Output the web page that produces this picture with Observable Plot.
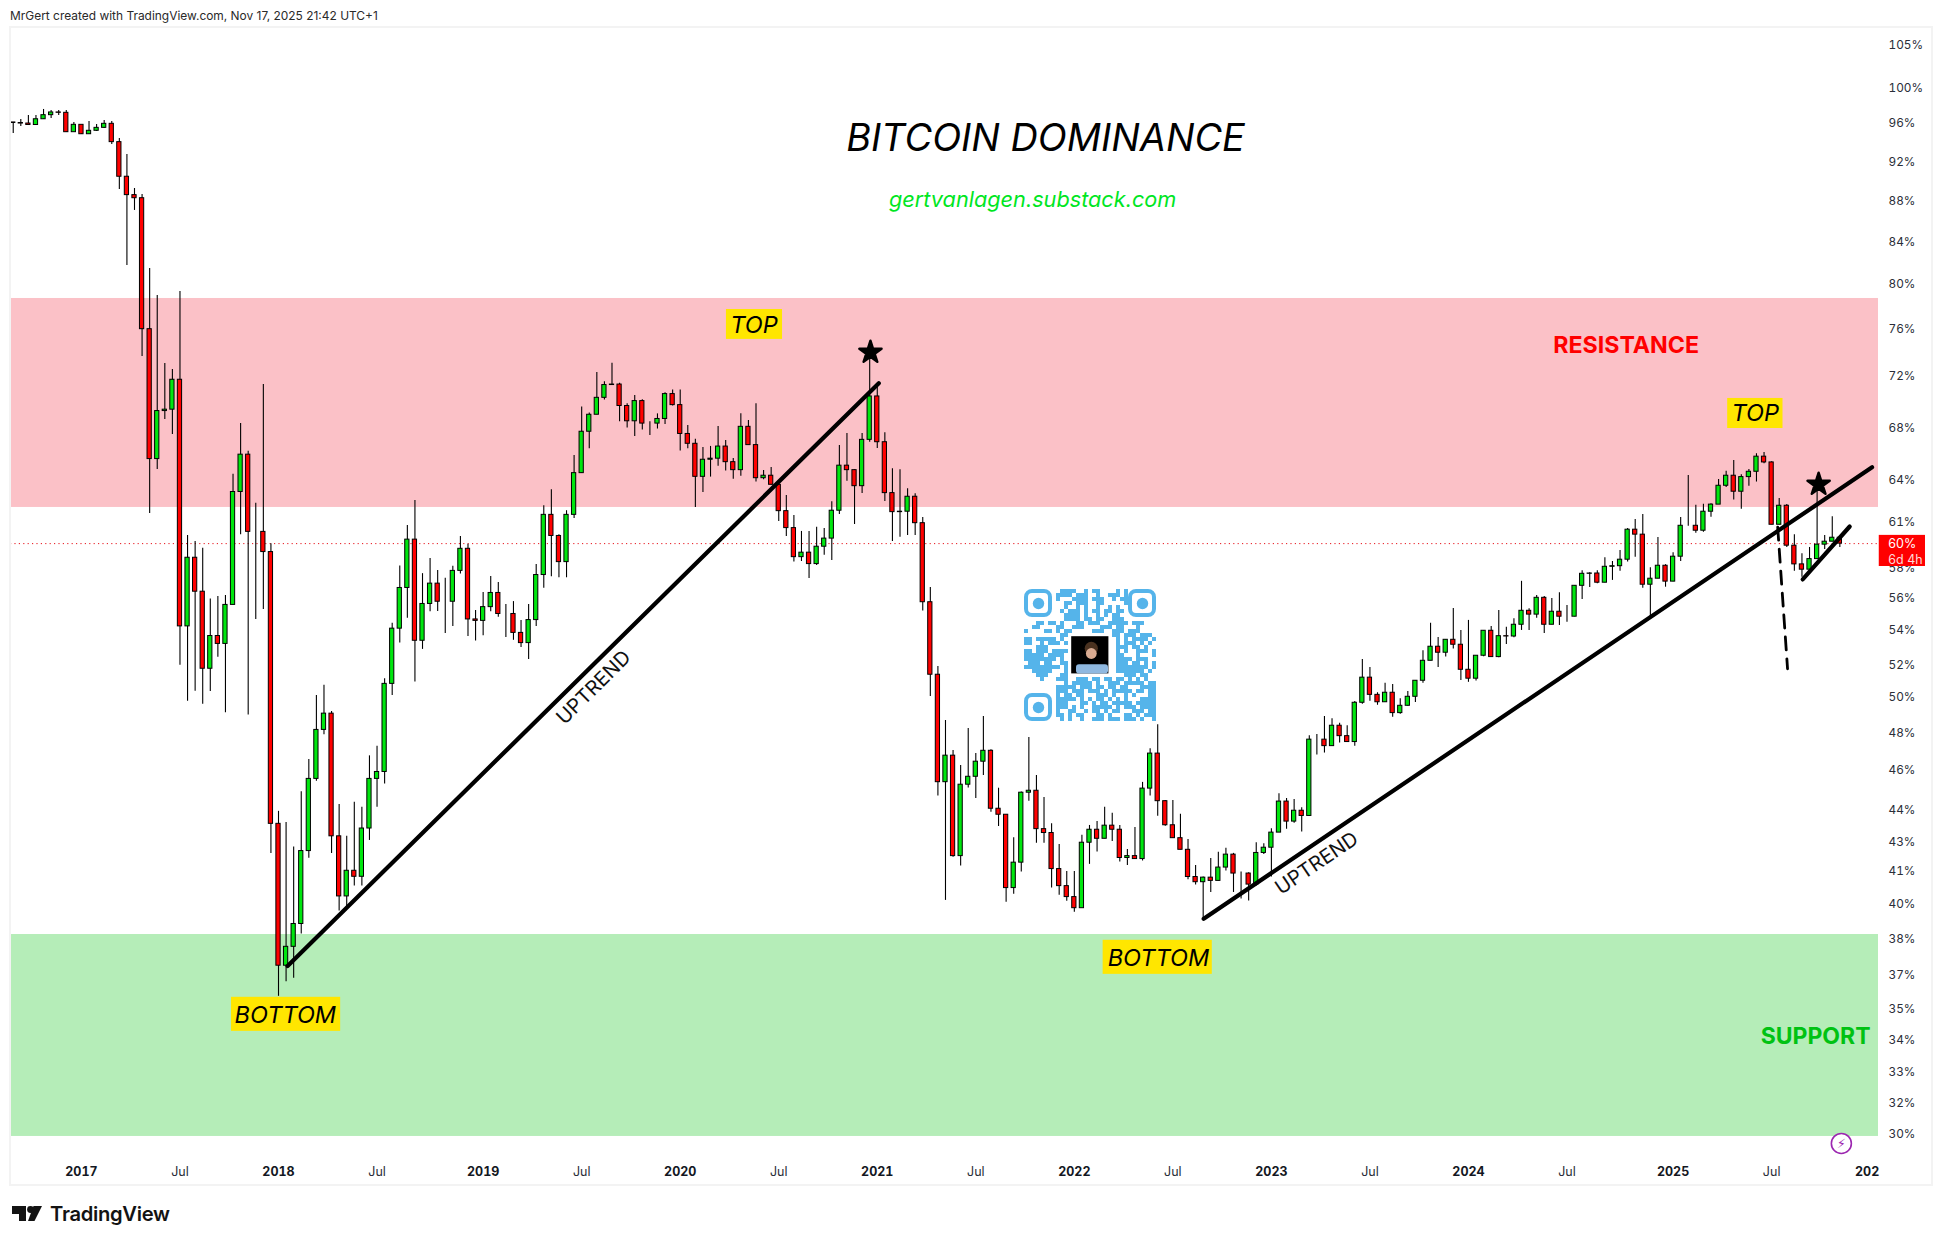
<!DOCTYPE html>
<html><head><meta charset="utf-8">
<script src="https://cdn.jsdelivr.net/npm/d3@7"></script>
<script src="https://cdn.jsdelivr.net/npm/@observablehq/plot@0.6"></script>
<style>
html,body{margin:0;padding:0;background:#fff;width:1940px;height:1244px;overflow:hidden;font-family:Inter,sans-serif}
#frame{position:absolute;left:9px;top:26px;width:1920px;height:1156px;border:2px solid #f3f3f3;box-sizing:content-box;pointer-events:none}
#head{position:absolute;left:10px;top:8px;font:11.95px Inter,sans-serif;color:#2a2a2a;white-space:nowrap}
#foot{position:absolute;left:50px;top:1201px;font:600 20.2px Inter,sans-serif;color:#131313;letter-spacing:-.3px}
#logo{position:absolute;left:0;top:0}
#chart{position:absolute;left:0;top:0}
#qr{position:absolute;left:1024px;top:589px}
</style></head><body>
<div id="head">MrGert created with TradingView.com, Nov 17, 2025 21:42 UTC+1</div>
<div id="chart"></div>
<div id="qr"></div>
<div id="frame"></div>
<svg id="logo" width="60" height="1244"><g fill="#131313"><polygon points="12,1206 26,1206 26,1221 19,1221 19,1214 12,1214"/><circle cx="30.5" cy="1209.5" r="3.4"/><polygon points="33.5,1206 42,1206 34.5,1221 28,1221"/></g></svg>
<div id="foot">TradingView</div>
<script>
const firstOpen = 96.1;
const highs = [96.09,96.42,96.86,96.86,97.53,97.42,97.42,97.42,96.09,95.66,96.2,95.87,96.31,96.2,94.36,92.66,89.14,88.53,81.39,78.92,73.04,72.54,79.28,60.06,59.65,59.18,55.87,56.03,56.09,64.38,68.22,66.09,62.29,71.31,59.49,43.87,43.32,42.13,44.86,46.53,50.06,50.64,49.15,44.21,42.64,44.32,44.07,46.73,47.24,51.01,54.35,58.01,60.74,62.49,57.5,58.5,57.71,57.2,57.98,59.99,59.46,55.14,56.28,57.32,56.93,55.52,55.7,54.52,55.52,58.11,62.12,63.27,60.11,61.77,65.77,69.51,69.04,72.29,71.53,73.05,71.42,69.77,70.43,70.09,68.36,68.97,70.65,70.87,70.87,68.07,67.01,66.38,66.46,67.99,66.91,65.56,68.98,68.45,69.77,64.67,64.89,63.72,62.85,61.44,60.33,60.33,60.61,60.54,62.41,66.53,67.45,64.72,67.45,73.54,71.39,67.5,64.8,64.72,63.33,62.97,61.3,56.6,51.74,48.65,47.02,46.22,48.21,46.85,48.87,47.06,45.04,43.7,42.57,44.84,47.72,45.7,44.57,43.26,42.25,40.97,40.97,42.69,43.17,43.37,44.07,43.77,43.17,42.01,43.07,45.34,47.11,48.41,44.42,44.42,43.72,42.49,41.25,40.71,41.58,41.87,42.06,41.82,40.94,40.91,42.33,42.28,43.01,44.76,44.52,44.47,44.05,47.81,47.88,48.87,48.74,48.49,48.36,49.71,52.15,51.68,50.21,50.75,50.69,49.87,50.28,50.9,52.67,54.34,53.47,53.33,55.27,53.9,54.52,52.37,53.88,54.15,55.14,54.09,54.63,57.0,55.25,56.09,56.03,55.9,56.26,55.46,56.71,57.69,57.56,57.69,58.55,58.3,59.04,60.54,61.16,61.51,57.89,59.92,58.09,58.89,61.3,64.3,62.15,62.22,62.27,64.01,64.6,65.41,64.36,64.74,65.91,66.01,65.31,62.64,62.2,60.1,58.82,59.24,63.36,60.06,61.35,59.85];
const closes = [96.04,95.98,95.82,96.45,96.9,97.2,97.16,95.04,95.84,94.82,95.19,95.51,95.95,93.97,90.34,88.47,88.16,75.95,65.51,69.19,69.3,71.7,54.15,58.55,56.33,51.6,53.56,53.08,55.49,63.1,65.84,60.3,60.3,58.93,43.25,36.8,37.6,38.59,41.93,45.52,48.13,49.03,42.64,39.82,41.0,40.72,43.02,45.52,45.88,50.72,54.01,56.57,59.77,53.27,55.55,56.85,55.69,55.69,57.68,59.15,54.58,54.49,55.35,56.25,54.92,54.92,53.75,53.13,54.54,57.41,61.48,60.02,58.26,61.48,64.47,67.58,68.9,70.24,71.27,71.31,69.59,68.39,69.98,68.21,68.21,68.57,70.54,69.66,67.41,66.66,64.2,65.46,65.54,66.45,65.28,64.69,67.96,66.56,64.1,64.28,63.62,61.74,60.56,58.59,58.89,58.13,59.29,59.84,61.77,65.02,64.69,63.52,66.96,70.35,66.78,63.02,61.67,61.7,62.76,60.9,55.66,51.25,45.35,46.74,41.69,45.22,45.63,46.42,47.0,44.0,43.7,40.2,41.38,44.81,44.91,42.99,42.8,41.08,40.29,39.79,39.29,42.33,42.96,42.52,43.16,42.96,41.6,41.69,41.55,45.02,46.85,44.38,43.18,42.55,41.99,40.71,40.47,40.68,40.53,41.15,41.76,40.87,40.87,40.36,41.84,42.09,42.82,44.36,43.36,43.9,43.64,47.6,47.6,47.25,48.36,47.79,47.47,49.64,51.08,50.09,49.67,50.21,49.06,49.47,49.98,50.9,52.07,52.91,52.55,53.33,53.03,51.54,51.02,52.37,53.88,52.29,53.55,53.53,54.25,55.12,54.88,55.94,54.25,55.06,54.75,54.75,56.71,57.49,57.51,56.91,57.95,57.99,58.42,60.45,60.11,56.78,57.17,58.02,56.98,58.62,60.72,60.72,60.38,61.7,62.2,63.55,64.28,63.12,64.18,64.57,65.69,65.26,60.79,62.12,59.36,58.11,57.76,58.46,59.43,59.63,59.9,59.5];
const lows = [94.89,95.66,95.76,95.76,96.42,96.53,96.86,95.0,95.11,94.79,94.79,95.11,95.44,93.72,89.04,81.66,86.94,73.63,61.58,64.74,68.53,67.37,51.8,49.73,50.3,49.56,50.28,52.28,49.08,55.49,60.11,48.95,54.58,55.2,41.81,35.54,36.13,36.28,38.15,41.59,45.4,47.86,41.81,39.16,39.26,40.29,40.29,42.44,44.07,45.26,50.06,53.13,54.66,50.83,52.75,55.06,55.08,53.72,54.15,57.47,53.53,53.25,53.58,55.06,54.72,53.47,53.3,52.86,52.14,54.15,56.55,57.29,57.23,57.23,61.22,64.47,66.29,68.9,70.06,71.23,68.36,67.86,67.22,67.72,67.29,67.79,68.14,69.59,66.11,66.29,61.99,63.07,64.18,64.98,64.62,64.03,64.25,66.56,63.82,63.99,63.6,61.02,59.99,58.26,58.3,57.19,58.04,58.71,58.37,61.51,63.87,60.81,63.0,66.78,66.31,62.43,59.65,59.94,60.06,60.06,55.1,50.0,44.64,39.64,41.64,41.22,45.05,44.52,45.7,43.83,43.12,39.56,39.92,40.94,44.38,42.31,42.31,40.2,39.87,39.6,39.11,39.39,41.3,41.88,42.52,42.39,41.41,41.25,41.55,41.46,44.64,43.62,43.13,42.55,41.99,40.58,40.34,38.84,40.0,40.53,40.99,40.0,39.7,39.61,40.29,41.77,40.71,42.82,42.99,43.28,42.85,43.61,46.77,46.88,47.25,47.42,47.47,47.25,49.56,49.73,49.5,49.67,48.83,49.0,49.45,49.66,50.76,52.07,51.68,52.29,52.77,50.92,50.81,50.88,52.31,52.29,52.25,53.05,53.46,53.9,53.9,54.66,53.72,54.25,54.21,54.4,54.75,55.83,56.6,56.85,56.91,57.06,57.65,58.26,58.59,56.56,54.63,57.17,56.62,56.98,58.3,60.68,60.21,60.28,61.32,62.2,63.43,62.52,61.88,63.52,63.82,65.17,60.79,60.79,59.24,57.66,57.27,57.76,58.46,59.11,59.63,59.24];

const yearIdx = [9,35,62,88,114,140,166,192,219,244.6];
const yearLabels = ["2017","2018","2019","2020","2021","2022","2023","2024","2025","202"];
const julIdx = [22,48,75,101,127,153,179,205,232];
const yTicks = [105.1,100,96.09,91.92,88,83.93,80,76.03,72.06,67.92,63.99,61.02,57.92,55.96,53.96,51.89,50,47.99,46.05,43.97,42.39,41.02,39.52,37.98,36.44,35.07,33.84,32.63,31.5,30.4];
const yLabels = ["105%","100%","96%","92%","88%","84%","80%","76%","72%","68%","64%","61%","58%","56%","54%","52%","50%","48%","46%","44%","43%","41%","40%","38%","37%","35%","34%","33%","32%","30%"];

const zones = [
  {x1:-0.36,x2:246.1,y1:62.0,y2:78.65,fill:"#fbc1c7"},
  {x1:-0.36,x2:246.1,y1:30.3,y2:38.13,fill:"#b5edb8"}
];
const labelBoxes = [
  {x1:94.1,x2:101.5,y1:75.07,y2:77.67},
  {x1:226.2,x2:233.5,y1:67.83,y2:70.19},
  {x1:28.8,x2:43.2,y1:34.15,y2:35.5},
  {x1:143.8,x2:158.2,y1:36.44,y2:37.88}
];
const labelTexts = [
  {x:97.74,y:76.27,t:"TOP"},{x:229.85,y:69.0,t:"TOP"},
  {x:35.9,y:34.78,t:"BOTTOM"},{x:151.1,y:37.11,t:"BOTTOM"}
];
const trend1 = [{x:36.2,y:36.79},{x:114.2,y:71.42}];
const trend2 = [{x:157.07,y:38.82},{x:245.25,y:64.9}];
const trend3 = [{x:236.1,y:57.12},{x:242.3,y:60.67}];
const dashed = [{x:232.8,y:60.62},{x:234.1,y:51.6}];
const stars = [{x:113.1,y:73.97},{x:238.2,y:63.65}];

const rows = closes.map((c,i)=>({i,h:highs[i],c,l:lows[i],o:i?closes[i-1]:firstOpen}));
const hw = 0.28;
const up = rows.filter(d=>d.c>=d.o), down = rows.filter(d=>d.c<d.o);
const body = (data,fill)=>Plot.rect(data,{x1:d=>d.i-hw,x2:d=>d.i+hw,y1:"o",y2:"c",fill,stroke:"#000",strokeWidth:1});
const fmtY = d=>yLabels[yTicks.indexOf(d)];

const plot = Plot.plot({
  width:1940,height:1244,
  marginLeft:10,marginRight:62,marginTop:26,marginBottom:89,
  style:{background:"transparent",fontFamily:"Inter, sans-serif",overflow:"visible"},
  x:{type:"linear",domain:[-0.36,246.1]},
  y:{type:"log",domain:[29.65,107.19]},
  marks:[
    Plot.rect(zones,{x1:"x1",x2:"x2",y1:"y1",y2:"y2",fill:"fill"}),
    Plot.ruleY([closes[closes.length-1]],{stroke:"#e8141c",strokeWidth:1,strokeDasharray:"1.2 3.2"}),
    Plot.ruleX(rows,{x:"i",y1:"l",y2:"h",stroke:"#000",strokeWidth:1.1}),
    body(up,"#00e60f"),
    body(down,"#ff0000"),
    Plot.line(trend1,{x:"x",y:"y",stroke:"#000",strokeWidth:4.2,strokeLinecap:"round"}),
    Plot.line(trend2,{x:"x",y:"y",stroke:"#000",strokeWidth:4.2,strokeLinecap:"round"}),
    Plot.line(trend3,{x:"x",y:"y",stroke:"#000",strokeWidth:4.2,strokeLinecap:"round"}),
    Plot.line(dashed,{x:"x",y:"y",stroke:"#000",strokeWidth:2.8,strokeDasharray:"13 9"}),
    Plot.dot(stars,{x:"x",y:"y",symbol:"star",r:7,fill:"#000",stroke:"#000",strokeWidth:2.4,strokeLinejoin:"round"}),
    Plot.rect(labelBoxes,{x1:"x1",x2:"x2",y1:"y1",y2:"y2",fill:"#ffe600"}),
    Plot.text(labelTexts,{x:"x",y:"y",text:"t",fontSize:23.5,fontStyle:"italic",fill:"#000"}),
    Plot.text([{x:136.2,y:94.3,t:"BITCOIN DOMINANCE"}],{x:"x",y:"y",text:"t",fontSize:37.9,fontStyle:"italic",fill:"#000"}),
    Plot.text([{x:134.5,y:87.93,t:"gertvanlagen.substack.com"}],{x:"x",y:"y",text:"t",fontSize:21.7,fontStyle:"italic",fill:"#00e61f"}),
    Plot.text([{x:212.8,y:74.55,t:"RESISTANCE"}],{x:"x",y:"y",text:"t",fontSize:23.2,fontWeight:700,fill:"#ff0000"}),
    Plot.text([{x:237.8,y:33.95,t:"SUPPORT"}],{x:"x",y:"y",text:"t",fontSize:23,fontWeight:700,fill:"#00c213"}),
    Plot.text([{x:76.6,y:50.51,t:"UPTREND"}],{x:"x",y:"y",text:"t",fontSize:20,rotate:-44.6,fill:"#111"}),
    Plot.text([{x:172,y:41.35,t:"UPTREND"}],{x:"x",y:"y",text:"t",fontSize:20,rotate:-34,fill:"#111"}),
    Plot.dot([{x:241.2,y:30.06}],{x:"x",y:"y",r:10,fill:"#fff",stroke:"#9c27b0",strokeWidth:1.6}),
    Plot.text([{x:241.2,y:30.06,t:"⚡"}],{x:"x",y:"y",text:"t",fontSize:13,fontFamily:"DejaVu Sans",fill:"#9c27b0"}),
    Plot.axisY(yTicks,{anchor:"right",tickSize:0,tickPadding:10,tickFormat:fmtY,fontSize:11.8,dy:1,fill:"#2a2e39",label:null}),
    Plot.axisX(yearIdx,{anchor:"bottom",tickSize:0,tickPadding:12,tickFormat:d=>yearLabels[yearIdx.indexOf(d)],fontSize:12.5,fontWeight:700,fill:"#131722",label:null}),
    Plot.axisX(julIdx,{anchor:"bottom",tickSize:0,tickPadding:12,tickFormat:()=>"Jul",fontSize:12.5,fill:"#2a2e39",label:null}),
    Plot.rect([{x1:246.2,x2:252.3,y1:57.97,y2:60.06}],{x1:"x1",x2:"x2",y1:"y1",y2:"y2",fill:"#ff0000"}),
    Plot.text([{x:247.4,y:59.5,t:"60%"}],{x:"x",y:"y",text:"t",textAnchor:"start",fontSize:12.5,fill:"#fff"}),
    Plot.text([{x:247.4,y:58.4,t:"6d 4h"}],{x:"x",y:"y",text:"t",textAnchor:"start",fontSize:12.5,fill:"#ffd9d9"})
  ]
});
document.getElementById("chart").append(plot);

const qrRows = [
".........####..#.##....#.#.......",
"........####.###..#..###.#.......",
"........#...####.###..#.##.......",
"..........##.###..##.....#.......",
"..........#..#.#..#..#.#.........",
".........#.###.#.##.##.##........",
"..........####.#..#.#.##.........",
"..........####.##.##..###........",
"...##.##.#...##.###..#####.###...",
"..##....##..###....###.##...#....",
"#....##.#.##.....###..###.###....",
".........##.#....##.####.###.###.",
"##.#####.#.............#.#.####.#",
"##..#.###.##...........#.###.#.#.",
"...###.....#...........###.##.#..",
"##.###.####............#.#..###.#",
"#####.####.#...........##...#...#",
"########.#.#...........####.###..",
".###.##..###...........###.##.#.#",
"#########.##...........########.#",
"..#####...##...........#######.#.",
"...###...###.##.####.#...###.##..",
"....#...###..###.##.##.##.#.#.#..",
"..........#.#####.#..###.#####.##",
"........#####.###.##.##.##...####",
"........###.###.###.#.#####.##.##",
"........#.##.##...###.#..#.#...##",
"........#####.#.#.##.#.#.#...####",
"........###...##.#.##.#####.#####",
"........###.#.#..#####.#.###.####",
"........#..##..#.##.#.##...###.##",
"........##.#.##...##.#...##.#.###",
".........#.#..#..###.###.###.#..#"
];
const modules = [];
qrRows.forEach((s,r)=>[...s].forEach((ch,c)=>{ if(ch==="#") modules.push({r,c}); }));
const finders = [{x:0,y:0},{x:26,y:0},{x:0,y:26}];
const blue = "#55b4ea";
const qr = Plot.plot({
  width:132,height:132,margin:0,
  style:{background:"transparent",overflow:"visible"},
  x:{domain:[0,33],axis:null},
  y:{domain:[0,33],reverse:true,axis:null},
  marks:[
    Plot.rect(modules,{x1:"c",x2:d=>d.c+1,y1:"r",y2:d=>d.r+1,fill:blue}),
    Plot.rect(finders,{x1:d=>d.x+.5,x2:d=>d.x+6.5,y1:d=>d.y+.5,y2:d=>d.y+6.5,stroke:blue,strokeWidth:4,fill:"#fff",rx:6}),
    Plot.dot(finders,{x:d=>d.x+3.5,y:d=>d.y+3.5,r:5.7,fill:blue}),
    Plot.rect([{x1:11,x2:22,y1:11,y2:22}],{x1:"x1",x2:"x2",y1:"y1",y2:"y2",fill:"#fff"}),
    Plot.rect([{x1:11.8,x2:21.1,y1:11.8,y2:21.1}],{x1:"x1",x2:"x2",y1:"y1",y2:"y2",fill:"#000"}),
    Plot.rect([{x1:13,x2:21,y1:18.8,y2:21.1}],{x1:"x1",x2:"x2",y1:"y1",y2:"y2",fill:"#8fb8e0",rx:3}),
    Plot.dot([{x:16.7,y:14.7}],{x:"x",y:"y",r:6.6,fill:"#4a3220"}),
    Plot.dot([{x:16.7,y:16.0}],{x:"x",y:"y",r:5.4,fill:"#d9ab92"})
  ]
});
document.getElementById("qr").append(qr);
</script>
</body></html>
